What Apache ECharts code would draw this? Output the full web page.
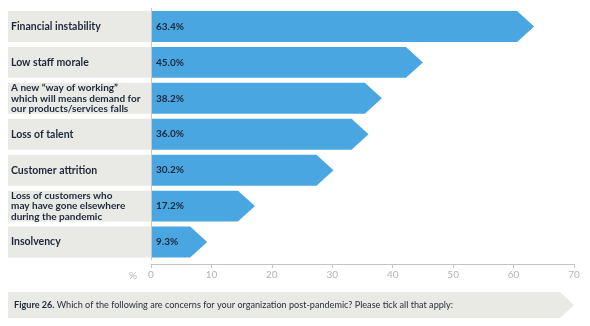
<!DOCTYPE html>
<html><head><meta charset="utf-8">
<script src="https://cdn.jsdelivr.net/npm/echarts@6/dist/echarts.min.js"></script>
<style>html,body{margin:0;padding:0;background:#fff}#c{width:590px;height:326px}</style>
</head><body><div id="c"></div>
<script>
const categories = [
  'Financial instability',
  'Low staff morale',
  'A new \u201cway of working\u201d\nwhich will means demand for\nour products/services falls',
  'Loss of talent',
  'Customer attrition',
  'Loss of customers who\nmay have gone elsewhere\nduring the pandemic',
  'Insolvency'
];
const values = [63.4, 45.0, 38.2, 36.0, 30.2, 17.2, 9.3];
const valueLabels = ['63.4%', '45.0%', '38.2%', '36.0%', '30.2%', '17.2%', '9.3%'];
const xTicks = [0, 10, 20, 30, 40, 50, 60, 70];
const caption = 'Which of the following are concerns for your organization post-pandemic? Please tick all that apply:';

const FONT = 'Lato';
const chart = echarts.init(document.getElementById('c'), null, {renderer: 'canvas'});

const data = values.map((v, i) => [i, v]);

chart.setOption({
  animation: false,
  grid: {left: 151, right: 16, top: 8.5, bottom: 66, containLabel: false},
  xAxis: {
    type: 'value', min: xTicks[0], max: xTicks[xTicks.length - 1], interval: 10,
    offset: 4,
    name: '%', nameLocation: 'start', nameGap: 14,
    nameTextStyle: {color: '#b4b4b4', fontFamily: FONT, fontSize: 10, verticalAlign: 'top', padding: [7, 0, 0, 0]},
    axisLine: {show: true, lineStyle: {color: '#c4c4c4', width: 1}},
    axisTick: {show: true, length: 4, lineStyle: {color: '#c4c4c4'}},
    axisLabel: {color: '#b4b4b4', fontFamily: FONT, fontSize: 10, margin: 6},
    splitLine: {show: false}
  },
  yAxis: {
    type: 'category', data: categories, inverse: true,
    axisLine: {show: true, lineStyle: {color: '#c8c8c8', width: 1}},
    axisTick: {show: false},
    z: 5,
    axisLabel: {
      align: 'left', margin: 140, color: '#1d2838', fontFamily: FONT,
      fontWeight: 'bold', fontSize: 10.5,
      formatter: function (v) {
        if (v.indexOf('\n') >= 0) {
          return v.split('\n').map(s => '{m|' + s + '}').join('\n');
        }
        return '{s|' + v + '}';
      },
      rich: {
        s: {fontFamily: FONT, fontWeight: 'bold', fontSize: 10.5, color: '#1d2838'},
        m: {fontFamily: FONT, fontWeight: 'bold', fontSize: 10, lineHeight: 10.5, color: '#1d2838'}
      }
    }
  },
  series: [
    {
      type: 'custom', clip: false, z: 1,
      data: data,
      renderItem: function (params, api) {
        const c = api.value(0);
        const p0 = api.coord([0, c]);
        const h = api.size([0, 1])[1] * 0.86;
        return {
          type: 'rect',
          shape: {x: p0[0] - 143, y: p0[1] - h / 2, width: 143, height: h},
          style: {fill: '#e9e9e6'}
        };
      }
    },
    {
      type: 'custom', clip: false, z: 2,
      data: data,
      renderItem: function (params, api) {
        const c = api.value(0);
        const v = api.value(1);
        const p0 = api.coord([0, c]);
        const p1 = api.coord([v, c]);
        const h = api.size([0, 1])[1] * 0.86;
        const t = h * 0.55;
        const x0 = p0[0] + 1, y = p0[1], xe = p1[0];
        return {
          type: 'group',
          children: [
            {
              type: 'polygon',
              shape: {points: [[x0, y - h / 2], [xe - t, y - h / 2], [xe, y], [xe - t, y + h / 2], [x0, y + h / 2]]},
              style: {fill: '#4aa6e1'}
            },
            {
              type: 'text',
              style: {
                text: valueLabels[params.dataIndex], x: x0 + 4, y: y,
                verticalAlign: 'middle', align: 'left',
                fill: '#1d2838', font: 'bold 10px ' + FONT
              }
            }
          ]
        };
      }
    }
  ],
  graphic: [
    {
      type: 'polygon', z: 0,
      shape: {points: [[8, 292], [560, 292], [574, 305], [560, 318], [8, 318]]},
      style: {fill: '#e9e9e6'}
    },
    {
      type: 'text', z: 1, x: 14, y: 305,
      style: {
        text: '{b|Figure 26.} ' + caption,
        verticalAlign: 'middle',
        font: '9.1px ' + FONT, fill: '#2a2f38',
        rich: {b: {fontWeight: 'bold', fontSize: 9.1, fontFamily: FONT, fill: '#1d2838'}}
      }
    }
  ]
});
</script></body></html>
